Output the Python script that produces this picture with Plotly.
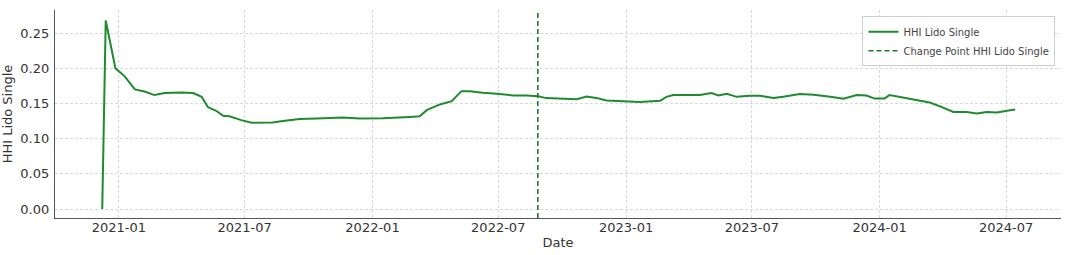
import plotly.graph_objects as go

dates = ["2020-12-08", "2020-12-13", "2020-12-27", "2021-01-09", "2021-01-24", "2021-02-07",
         "2021-02-21", "2021-03-08", "2021-04-01", "2021-04-18", "2021-04-30", "2021-05-09",
         "2021-05-21", "2021-05-31", "2021-06-09", "2021-06-26", "2021-07-11", "2021-08-10",
         "2021-08-25", "2021-09-18", "2021-10-13", "2021-11-19", "2021-12-14", "2022-01-16",
         "2022-02-24", "2022-03-10", "2022-03-20", "2022-04-08", "2022-04-25", "2022-05-09",
         "2022-05-21", "2022-06-09", "2022-07-03", "2022-07-22", "2022-08-11", "2022-08-27",
         "2022-09-08", "2022-09-27", "2022-10-22", "2022-11-05", "2022-11-19", "2022-12-04",
         "2022-12-28", "2023-01-21", "2023-02-19", "2023-02-28", "2023-03-10", "2023-04-17",
         "2023-05-04", "2023-05-14", "2023-05-26", "2023-06-09", "2023-06-28", "2023-07-13",
         "2023-08-01", "2023-08-15", "2023-09-08", "2023-09-28", "2023-10-22", "2023-11-10",
         "2023-11-29", "2023-12-13", "2023-12-25", "2024-01-08", "2024-01-15", "2024-01-29",
         "2024-02-13", "2024-02-27", "2024-03-13", "2024-03-28", "2024-04-16", "2024-05-05",
         "2024-05-20", "2024-06-03", "2024-06-18", "2024-07-02", "2024-07-14"]
hhi = [0.000, 0.268, 0.200, 0.189, 0.170, 0.167,
       0.162, 0.165, 0.1657, 0.165, 0.1596, 0.145,
       0.1397, 0.1326, 0.132, 0.1264, 0.1226, 0.123,
       0.125, 0.128, 0.1288, 0.130, 0.1288, 0.129,
       0.131, 0.132, 0.1406, 0.1487, 0.1534, 0.1676,
       0.1676, 0.1652, 0.1634, 0.1615, 0.1615, 0.1605,
       0.1577, 0.157, 0.156, 0.160, 0.158, 0.1544,
       0.1534, 0.152, 0.1538, 0.1595, 0.162, 0.162,
       0.1648, 0.1615, 0.1638, 0.1595, 0.161, 0.161,
       0.158, 0.1595, 0.1634, 0.1624, 0.1595, 0.1567,
       0.162, 0.1615, 0.157, 0.157, 0.162, 0.1595,
       0.156, 0.1538, 0.1515, 0.146, 0.138, 0.138,
       0.136, 0.138, 0.1373, 0.1397, 0.1416]
change_point = "2022-08-27"
y_range = [-0.0128, 0.283]
x_range = ["2020-10-01", "2024-09-18"]
y_ticks = [0.00, 0.05, 0.10, 0.15, 0.20, 0.25]

green = "#1f8a2e"
fig = go.Figure()
fig.add_trace(go.Scatter(x=dates, y=hhi, mode="lines", name="HHI Lido Single",
                         line=dict(color=green, width=2)))
fig.add_trace(go.Scatter(x=[change_point, change_point], y=y_range, mode="lines",
                         name="Change Point HHI Lido Single",
                         line=dict(color="#1a7a2a", width=1.6, dash="5px,3px")))

grid = "#d9d9d9"
fig.update_layout(
    width=1080, height=255,
    margin=dict(l=55, r=19, t=10, b=37),
    paper_bgcolor="white", plot_bgcolor="white",
    font=dict(family="DejaVu Sans", size=13, color="#333333"),
    showlegend=True,
    legend=dict(x=0.9945, y=0.97, xanchor="right", yanchor="top",
                bgcolor="rgba(255,255,255,0.9)", bordercolor="#cccccc", borderwidth=1,
                font=dict(size=10, color="#444444"), tracegroupgap=0, itemwidth=30),
    xaxis=dict(range=x_range, type="date", dtick="M6", tick0="2021-01-01",
               tickformat="%Y-%m", showgrid=True, gridcolor=grid, griddash="3px,2px",
               gridwidth=0.8, showline=True, linecolor="#555555", linewidth=1.2,
               ticks="", ticklabelstandoff=-3, zeroline=False, automargin=False,
               title=dict(text="Date", font=dict(size=13, color="#333333"), standoff=4),
               tickfont=dict(size=13, color="#333333")),
    yaxis=dict(range=y_range, tickvals=y_ticks, tickformat=".2f",
               showgrid=True, gridcolor=grid, griddash="3px,2px", gridwidth=0.8,
               showline=True, linecolor="#555555", linewidth=1.2,
               ticks="outside", ticklen=2, tickcolor="white", zeroline=False, automargin=False,
               title=dict(text="HHI Lido Single", font=dict(size=13, color="#333333"), standoff=4),
               tickfont=dict(size=13, color="#333333")),
)

fig.write_html("out.html")
